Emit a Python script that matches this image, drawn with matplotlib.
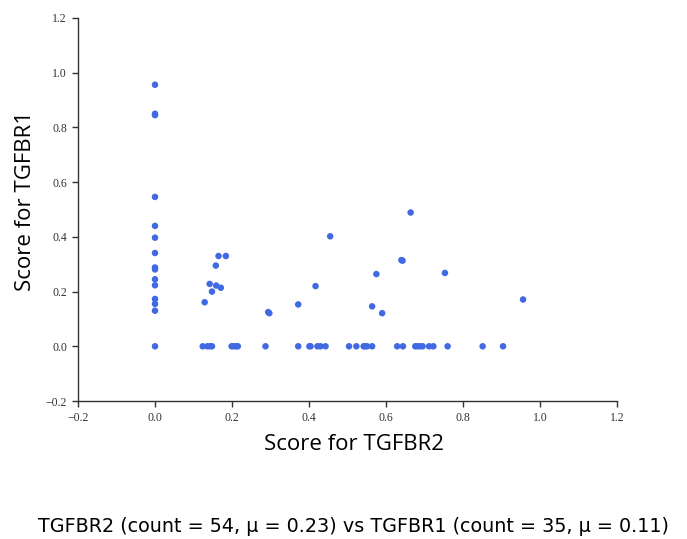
import numpy as np
import matplotlib
matplotlib.use("Agg")
from matplotlib import pyplot as plt

# scores (x = TGFBR2, y = TGFBR1)
tgfbr2 = [0.0, 0.0, 0.0, 0.0, 0.0, 0.0, 0.0, 0.0, 0.0, 0.0, 0.0, 0.0, 0.0, 0.0, 0.0,
          0.129, 0.142, 0.148, 0.158, 0.159, 0.165, 0.171, 0.184, 0.294, 0.297,
          0.372, 0.417, 0.455, 0.564, 0.575, 0.590, 0.640, 0.643, 0.664, 0.753, 0.956,
          0.124, 0.136, 0.143, 0.148, 0.199, 0.205, 0.211, 0.215, 0.287,
          0.372, 0.401, 0.404, 0.422, 0.430, 0.443,
          0.504, 0.523, 0.542, 0.546, 0.551, 0.564,
          0.629, 0.644, 0.676, 0.682, 0.688, 0.695, 0.712, 0.723,
          0.760, 0.851, 0.904]
tgfbr1 = [0.956, 0.850, 0.845, 0.546, 0.440, 0.397, 0.341, 0.288, 0.281, 0.245, 0.223,
          0.173, 0.155, 0.130, 0.0,
          0.161, 0.228, 0.200, 0.295, 0.222, 0.330, 0.214, 0.330, 0.125, 0.121,
          0.153, 0.220, 0.402, 0.146, 0.264, 0.121, 0.315, 0.313, 0.489, 0.268, 0.171,
          0.0, 0.0, 0.0, 0.0, 0.0, 0.0, 0.0, 0.0, 0.0,
          0.0, 0.0, 0.0, 0.0, 0.0, 0.0,
          0.0, 0.0, 0.0, 0.0, 0.0, 0.0,
          0.0, 0.0, 0.0, 0.0, 0.0, 0.0, 0.0, 0.0,
          0.0, 0.0, 0.0]

title = "TGFBR2 (count = 54, \u03bc = 0.23) vs TGFBR1 (count = 35, \u03bc = 0.11)"
ticks = [-0.2, 0.0, 0.2, 0.4, 0.6, 0.8, 1.0, 1.2]
tick_labels = ["\u22120.2" if t < 0 else "%.1f" % t for t in ticks]

fig = plt.figure(figsize=(6.87, 5.39), dpi=100)
ax = fig.add_axes([78 / 687, 1 - 401 / 539, (617 - 78) / 687, (401 - 18) / 539])

ax.scatter(tgfbr2, tgfbr1, s=22, color="#4169e1", edgecolors="none", zorder=3)

ax.set_xlim(-0.2, 1.2)
ax.set_ylim(-0.2, 1.2)
ax.set_xticks(ticks)
ax.set_yticks(ticks)
ax.set_xticklabels(tick_labels, family="Liberation Serif", fontsize=8.5, color="#333333")
ax.set_yticklabels(tick_labels, family="Liberation Serif", fontsize=8.5, color="#333333")
ax.tick_params(direction="out", length=4, width=1, colors="#333333", pad=4)

for s in ["top", "right"]:
    ax.spines[s].set_visible(False)
for s in ["left", "bottom"]:
    ax.spines[s].set_color("#333333")
    ax.spines[s].set_linewidth(1)

ax.set_xlabel("Score for TGFBR2", family="Open Sans", fontsize=16)
ax.set_ylabel("Score for TGFBR1", family="Open Sans", fontsize=16)
ax.xaxis.set_label_coords(0.512, -0.086)
ax.yaxis.set_label_coords(-0.077, 0.522)

fig.text(353 / 687, 1 - 526 / 539, title, ha="center", va="center",
         family="DejaVu Sans", fontsize=13.8)

fig.savefig("out.png", dpi=100)
